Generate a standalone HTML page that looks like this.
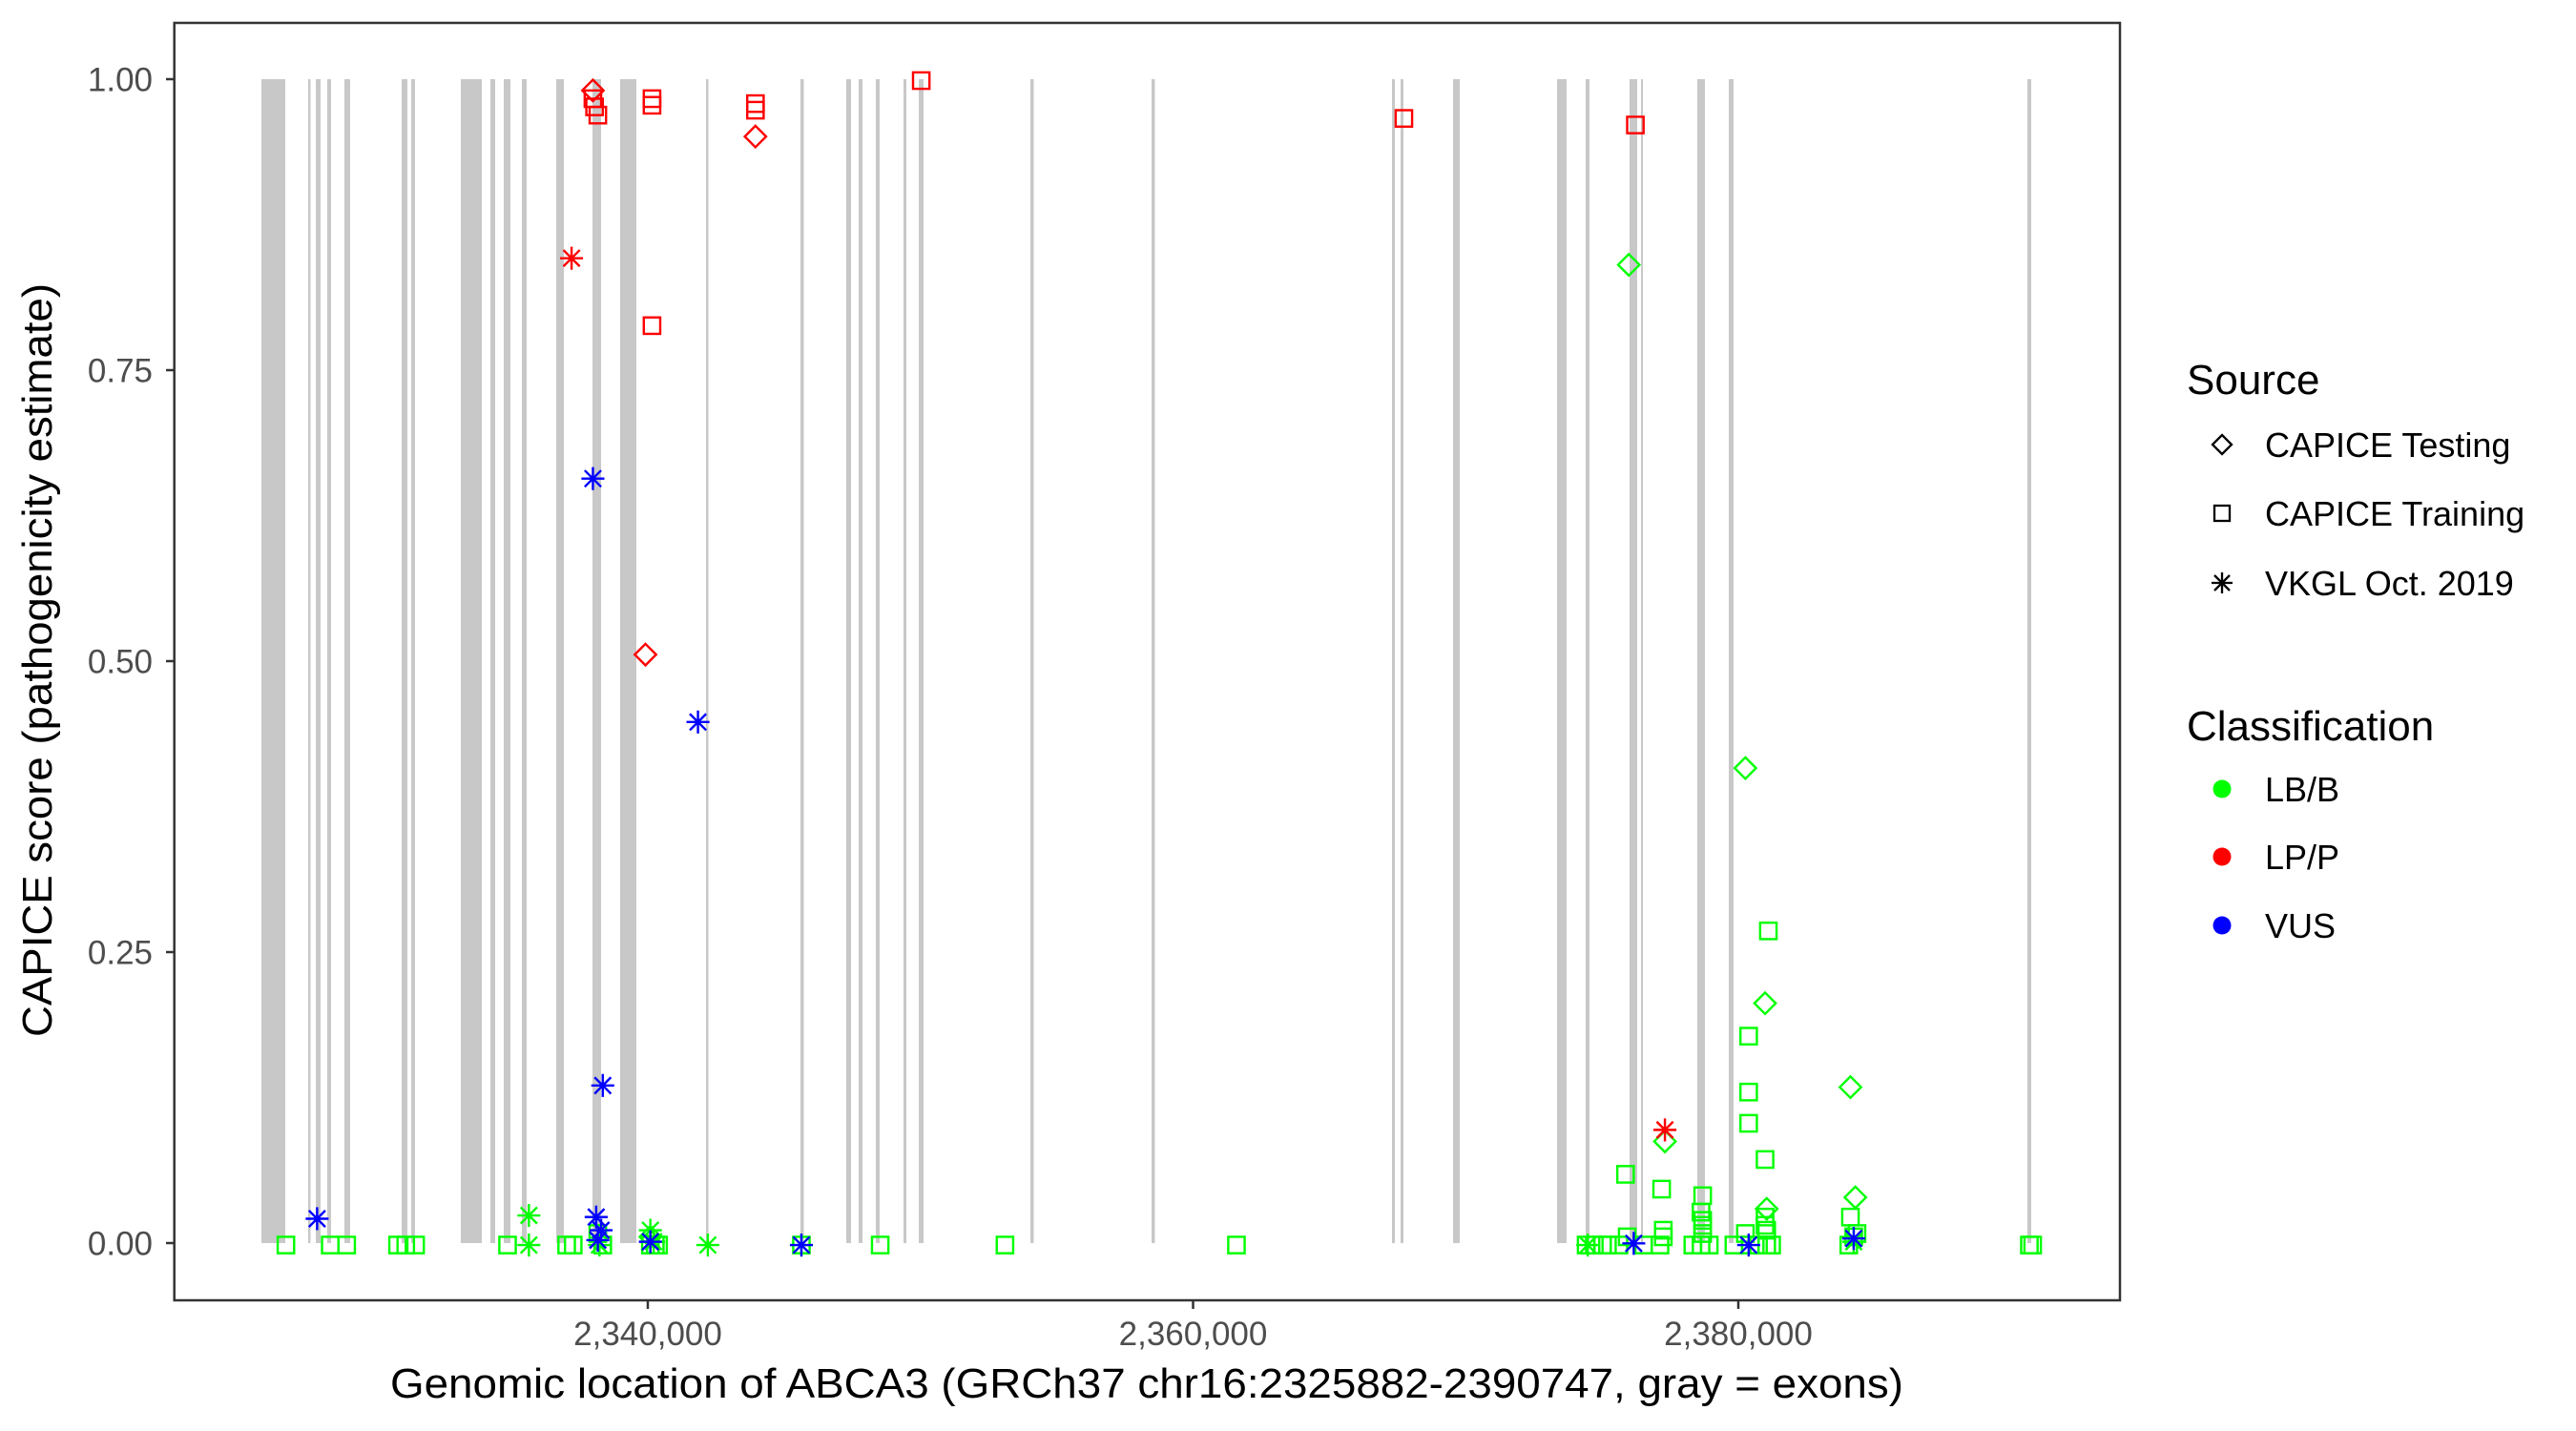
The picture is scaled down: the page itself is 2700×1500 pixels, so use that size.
<!DOCTYPE html>
<html><head><meta charset="utf-8"><style>
html,body{margin:0;padding:0;background:#fff;}
svg{display:block;font-family:"Liberation Sans",Arial,sans-serif;}
</style></head><body>
<svg width="2700" height="1500" viewBox="0 0 2700 1500" xmlns="http://www.w3.org/2000/svg">
<defs>
<rect id="sq" x="-5" y="-5" width="10" height="10" fill="none" stroke="currentColor" stroke-width="1.4"/>
<path id="dm" d="M0,-6.5L6.5,0L0,6.5L-6.5,0Z" fill="none" stroke="currentColor" stroke-width="1.4"/>
<path id="st" d="M0,-7V7M-7,0H7M-5,-5L5,5M-5,5L5,-5" fill="none" stroke="currentColor" stroke-width="1.4"/>
</defs>
<rect width="2700" height="1500" fill="#fff"/>
<g fill="#c8c8c8">
<rect x="274" y="83" width="25" height="1220"/>
<rect x="323" y="83" width="2.5" height="1220"/>
<rect x="331" y="83" width="5" height="1220"/>
<rect x="343" y="83" width="4" height="1220"/>
<rect x="361" y="83" width="6" height="1220"/>
<rect x="421" y="83" width="6" height="1220"/>
<rect x="431" y="83" width="4" height="1220"/>
<rect x="483" y="83" width="22" height="1220"/>
<rect x="514" y="83" width="5" height="1220"/>
<rect x="528" y="83" width="7" height="1220"/>
<rect x="547" y="83" width="5" height="1220"/>
<rect x="583" y="83" width="8" height="1220"/>
<rect x="621" y="83" width="9" height="1220"/>
<rect x="650" y="83" width="17" height="1220"/>
<rect x="740" y="83" width="2.5" height="1220"/>
<rect x="839" y="83" width="3.5" height="1220"/>
<rect x="887" y="83" width="5" height="1220"/>
<rect x="900" y="83" width="4" height="1220"/>
<rect x="918" y="83" width="4" height="1220"/>
<rect x="947" y="83" width="3" height="1220"/>
<rect x="963" y="83" width="5" height="1220"/>
<rect x="1080" y="83" width="3.5" height="1220"/>
<rect x="1207" y="83" width="3.5" height="1220"/>
<rect x="1459" y="83" width="3" height="1220"/>
<rect x="1468" y="83" width="3" height="1220"/>
<rect x="1523" y="83" width="7" height="1220"/>
<rect x="1632" y="83" width="10" height="1220"/>
<rect x="1662" y="83" width="4" height="1220"/>
<rect x="1708" y="83" width="8" height="1220"/>
<rect x="1720" y="83" width="2" height="1220"/>
<rect x="1779" y="83" width="8" height="1220"/>
<rect x="1812" y="83" width="5" height="1220"/>
<rect x="2125" y="83" width="4" height="1220"/>
</g>
<g transform="matrix(1.7207 0 0 1.724 2 0)">
<g style="color:#00ff00">
<use href="#sq" x="173" y="757"/><use href="#sq" x="200" y="757"/><use href="#sq" x="210" y="757"/>
<use href="#sq" x="241" y="757"/><use href="#sq" x="246" y="757"/><use href="#sq" x="252" y="757"/>
<use href="#sq" x="308" y="757"/><use href="#sq" x="344" y="757"/><use href="#sq" x="348" y="757"/>
<use href="#sq" x="363" y="750"/><use href="#sq" x="366" y="757"/><use href="#sq" x="395" y="757"/>
<use href="#sq" x="398" y="757"/><use href="#sq" x="400" y="757"/><use href="#sq" x="487" y="757"/>
<use href="#sq" x="535" y="757"/><use href="#sq" x="611" y="757"/><use href="#sq" x="752" y="757"/>
<use href="#st" x="321" y="739"/><use href="#st" x="321" y="757"/><use href="#st" x="364" y="757"/>
<use href="#st" x="395" y="748"/><use href="#st" x="397" y="755"/><use href="#st" x="430" y="757"/>
<use href="#st" x="487" y="757"/><use href="#dm" x="395" y="752"/>
<use href="#sq" x="965" y="757"/><use href="#sq" x="970" y="757"/><use href="#sq" x="975" y="757"/>
<use href="#sq" x="978" y="757"/><use href="#sq" x="985" y="757"/><use href="#sq" x="990" y="752"/>
<use href="#sq" x="1000" y="757"/><use href="#sq" x="1010" y="757"/><use href="#sq" x="1012" y="752"/>
<use href="#sq" x="1030" y="757"/><use href="#sq" x="1035" y="757"/><use href="#sq" x="1036" y="750"/>
<use href="#sq" x="1036" y="745"/><use href="#sq" x="1040" y="757"/><use href="#sq" x="1055" y="757"/>
<use href="#sq" x="1062" y="750"/><use href="#sq" x="1065" y="757"/><use href="#sq" x="1070" y="757"/>
<use href="#sq" x="1075" y="757"/><use href="#sq" x="1075" y="748"/><use href="#sq" x="1078" y="757"/>
<use href="#sq" x="1125" y="757"/><use href="#sq" x="1128" y="752"/><use href="#sq" x="1130" y="750"/>
<use href="#sq" x="1235" y="757"/><use href="#sq" x="1237" y="757"/>
<use href="#st" x="966" y="757"/><use href="#st" x="1128" y="755"/>
<use href="#dm" x="991" y="161"/><use href="#dm" x="1062" y="467"/><use href="#sq" x="1076" y="566"/>
<use href="#dm" x="1074" y="610"/><use href="#sq" x="1064" y="630"/><use href="#sq" x="1064" y="664"/>
<use href="#sq" x="1064" y="683"/><use href="#dm" x="1126" y="661"/><use href="#sq" x="1074" y="705"/>
<use href="#dm" x="1013" y="694"/><use href="#sq" x="989" y="714"/><use href="#sq" x="1011" y="723"/>
<use href="#sq" x="1036" y="727"/><use href="#dm" x="1129" y="728"/><use href="#sq" x="1035" y="737"/>
<use href="#sq" x="1036" y="742"/><use href="#sq" x="1126" y="740"/><use href="#sq" x="1074" y="740"/>
<use href="#dm" x="1075" y="735"/><use href="#sq" x="1074" y="745"/><use href="#sq" x="1012" y="748"/>
</g>
<g style="color:#ff0000">
<use href="#dm" x="360" y="55"/><use href="#sq" x="360" y="60"/><use href="#sq" x="361" y="65"/>
<use href="#sq" x="363" y="70"/><use href="#sq" x="396" y="60"/><use href="#sq" x="396" y="64"/>
<use href="#sq" x="459" y="63"/><use href="#sq" x="459" y="67"/><use href="#dm" x="459" y="83"/>
<use href="#sq" x="560" y="49"/><use href="#sq" x="854" y="72"/><use href="#sq" x="995" y="76"/>
<use href="#st" x="347" y="157"/><use href="#sq" x="396" y="198"/><use href="#dm" x="392" y="398"/>
<use href="#st" x="1013" y="687"/>
</g>
<g style="color:#0000ff">
<use href="#st" x="360" y="291"/><use href="#st" x="424" y="439"/><use href="#st" x="366" y="660"/>
<use href="#st" x="192" y="741"/><use href="#st" x="362" y="740"/><use href="#st" x="365" y="748"/>
<use href="#st" x="363" y="754"/><use href="#st" x="395" y="755"/><use href="#st" x="487" y="757"/>
<use href="#st" x="994" y="756"/><use href="#st" x="1064" y="757"/><use href="#st" x="1128" y="753"/>
</g>
</g>
<rect x="182.7" y="24" width="2039.3" height="1339" fill="none" stroke="#333" stroke-width="2.5"/>
<g stroke="#333" stroke-width="2.5">
<line x1="174" y1="83" x2="182.7" y2="83"/><line x1="174" y1="388" x2="182.7" y2="388"/>
<line x1="174" y1="693" x2="182.7" y2="693"/><line x1="174" y1="998" x2="182.7" y2="998"/>
<line x1="174" y1="1303" x2="182.7" y2="1303"/>
<line x1="679" y1="1363" x2="679" y2="1372"/><line x1="1250.5" y1="1363" x2="1250.5" y2="1372"/>
<line x1="1822" y1="1363" x2="1822" y2="1372"/>
</g>
<g font-size="35" fill="#4d4d4d" text-anchor="end">
<text x="160" y="95.5">1.00</text><text x="160" y="400.5">0.75</text><text x="160" y="705.5">0.50</text>
<text x="160" y="1010.5">0.25</text><text x="160" y="1315.5">0.00</text>
</g>
<g font-size="35" fill="#4d4d4d" text-anchor="middle">
<text x="679" y="1410">2,340,000</text><text x="1250.5" y="1410">2,360,000</text><text x="1822" y="1410">2,380,000</text>
</g>
<text x="1202" y="1465" font-size="44" text-anchor="middle" textLength="1586" lengthAdjust="spacingAndGlyphs">Genomic location of ABCA3 (GRCh37 chr16:2325882-2390747, gray = exons)</text>
<text transform="translate(54,692) rotate(-90)" font-size="44" text-anchor="middle" textLength="790" lengthAdjust="spacingAndGlyphs">CAPICE score (pathogenicity estimate)</text>
<text x="2292" y="413" font-size="44">Source</text>
<g transform="translate(2329,466)"><path d="M0,-10L10,0L0,10L-10,0Z" fill="none" stroke="#000" stroke-width="2.3"/></g>
<g transform="translate(2329,538)"><rect x="-8" y="-8" width="16" height="16" fill="none" stroke="#000" stroke-width="2.3"/></g>
<g transform="translate(2329,611)"><path d="M0,-11V11M-11,0H11M-8,-8L8,8M-8,8L8,-8" fill="none" stroke="#000" stroke-width="2.3"/></g>
<g font-size="36">
<text x="2374" y="479">CAPICE Testing</text>
<text x="2374" y="551">CAPICE Training</text>
<text x="2374" y="624">VKGL Oct. 2019</text>
</g>
<text x="2292" y="776" font-size="44">Classification</text>
<circle cx="2329" cy="827" r="9.5" fill="#00ff00"/>
<circle cx="2329" cy="898" r="9.5" fill="#ff0000"/>
<circle cx="2329" cy="970" r="9.5" fill="#0000ff"/>
<g font-size="36">
<text x="2374" y="840">LB/B</text>
<text x="2374" y="911">LP/P</text>
<text x="2374" y="983">VUS</text>
</g>
</svg>
</body></html>
